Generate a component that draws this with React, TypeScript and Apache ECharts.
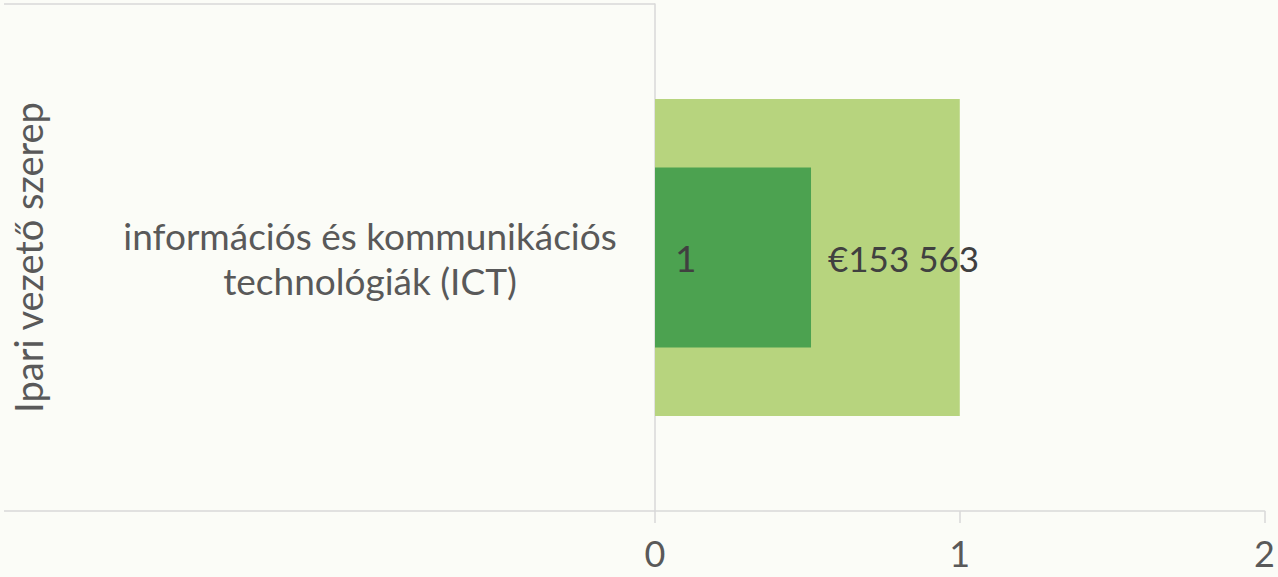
import React, { useEffect, useRef } from "react";
import * as echarts from "echarts";

const categories = ["információs és kommunikációs\ntechnológiák (ICT)"];
const countValues = [1];
const fundingValues = [153563];
const fundingLabels = ["€153 563"];
const xTicks = [0, 1, 2];
const axisName = "Ipari vezető szerep";

const FONT = "Lato, 'Open Sans', sans-serif";

export default function App() {
  const ref = useRef<HTMLDivElement>(null);
  useEffect(() => {
    if (!ref.current) return;
    const chart = echarts.init(ref.current, undefined, { renderer: "svg" });
    chart.setOption({
      animation: false,
      backgroundColor: "#fbfcf7",
      textStyle: { fontFamily: FONT },
      grid: { left: 655, right: 13, top: 4, bottom: 66 },
      xAxis: [
        {
          type: "value",
          min: xTicks[0],
          max: xTicks[xTicks.length - 1],
          interval: 1,
          axisLine: { show: true, lineStyle: { color: "#d9d9d9", width: 1.5 } },
          axisTick: { show: true, length: 12, lineStyle: { color: "#d9d9d9", width: 1.5 } },
          splitLine: { show: false },
          axisLabel: { color: "#595959", fontSize: 36, margin: 24, fontFamily: FONT },
        },
        {
          type: "value",
          min: 0,
          max: 600000,
          show: false,
          splitLine: { show: false },
        },
      ],
      yAxis: [
        {
          type: "category",
          data: categories,
          name: axisName,
          nameLocation: "middle",
          nameGap: 608,
          nameRotate: 90,
          nameTextStyle: { color: "#595959", fontSize: 38, fontFamily: FONT },
          axisLine: { show: true, lineStyle: { color: "#d9d9d9", width: 1.5 } },
          axisTick: { show: false },
          axisLabel: {
            color: "#595959",
            fontSize: 37,
            lineHeight: 45,
            align: "center",
            margin: 285,
            fontFamily: FONT,
          },
        },
        {
          type: "category",
          data: categories,
          show: false,
        },
      ],
      graphic: [
        {
          type: "line",
          shape: { x1: 4, y1: 4, x2: 655, y2: 4 },
          style: { stroke: "#d9d9d9", lineWidth: 1.5 },
        },
        {
          type: "line",
          shape: { x1: 4, y1: 511, x2: 655, y2: 511 },
          style: { stroke: "#d9d9d9", lineWidth: 1.5 },
        },
      ],
      series: [
        {
          type: "bar",
          xAxisIndex: 0,
          yAxisIndex: 0,
          data: countValues,
          barWidth: 317,
          itemStyle: { color: "#b7d47e" },
          label: {
            show: true,
            position: "insideLeft",
            distance: 20,
            color: "#404040",
            fontSize: 37,
            fontFamily: FONT,
          },
        },
        {
          type: "bar",
          xAxisIndex: 1,
          yAxisIndex: 1,
          data: fundingValues,
          barWidth: 180,
          itemStyle: { color: "#4ca250" },
          label: {
            show: true,
            position: "right",
            distance: 17,
            color: "#404040",
            fontSize: 35,
            fontFamily: FONT,
            formatter: (p: any) => fundingLabels[p.dataIndex],
          },
        },
      ],
    });
    return () => chart.dispose();
  }, []);
  return (
    <div
      ref={ref}
      style={{ position: "absolute", left: 0, top: 0, width: 1278, height: 577 }}
    />
  );
}
